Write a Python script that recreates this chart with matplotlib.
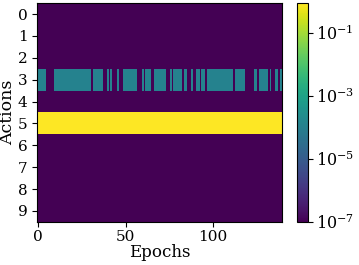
import numpy as np
import matplotlib
matplotlib.use("Agg")
import matplotlib.pyplot as plt
from matplotlib.colors import LogNorm

plt.rcParams['font.family'] = 'DejaVu Serif'
plt.rcParams['mathtext.fontset'] = 'dejavuserif'

n_actions = 10
n_epochs = 140
dominant_action = 5
dominant_value = 0.85
secondary_action = 3
secondary_value = 1.2e-4
floor_value = 1e-7
secondary_epochs = (list(range(0, 5)) + list(range(10, 31)) + list(range(32, 38)) + [40, 42, 46]
                    + list(range(49, 57)) + [60] + list(range(62, 65)) + list(range(67, 74)) + [76]
                    + list(range(78, 83)) + [84, 85, 88, 91, 92, 94, 95] + list(range(97, 112))
                    + list(range(113, 119)) + [124, 125] + list(range(127, 132)) + [133, 136, 137, 139])

data = np.full((n_actions, n_epochs), floor_value)
data[dominant_action, :] = dominant_value
data[secondary_action, secondary_epochs] = secondary_value

fig = plt.figure(figsize=(3.59, 2.65), dpi=100)
ax = fig.add_axes([0.104, 0.163, 0.681, 0.825])
cax = fig.add_axes([0.828, 0.163, 0.0306, 0.825])

im = ax.imshow(data, aspect='auto', cmap='viridis', norm=LogNorm(vmin=1e-7, vmax=dominant_value),
               interpolation='nearest')
ax.set_yticks(range(n_actions))
ax.set_xticks([0, 50, 100])
ax.tick_params(labelsize=11)
ax.tick_params(axis='x', pad=2.5)
ax.set_xlabel('Epochs', fontsize=12, labelpad=0)
ax.set_ylabel('Actions', fontsize=12.5, labelpad=1)

cb = fig.colorbar(im, cax=cax)
cb.set_ticks([1e-7, 1e-5, 1e-3, 1e-1])
cb.ax.tick_params(labelsize=11.5, pad=2)
cb.ax.minorticks_off()

fig.savefig('out.png', dpi=100)
